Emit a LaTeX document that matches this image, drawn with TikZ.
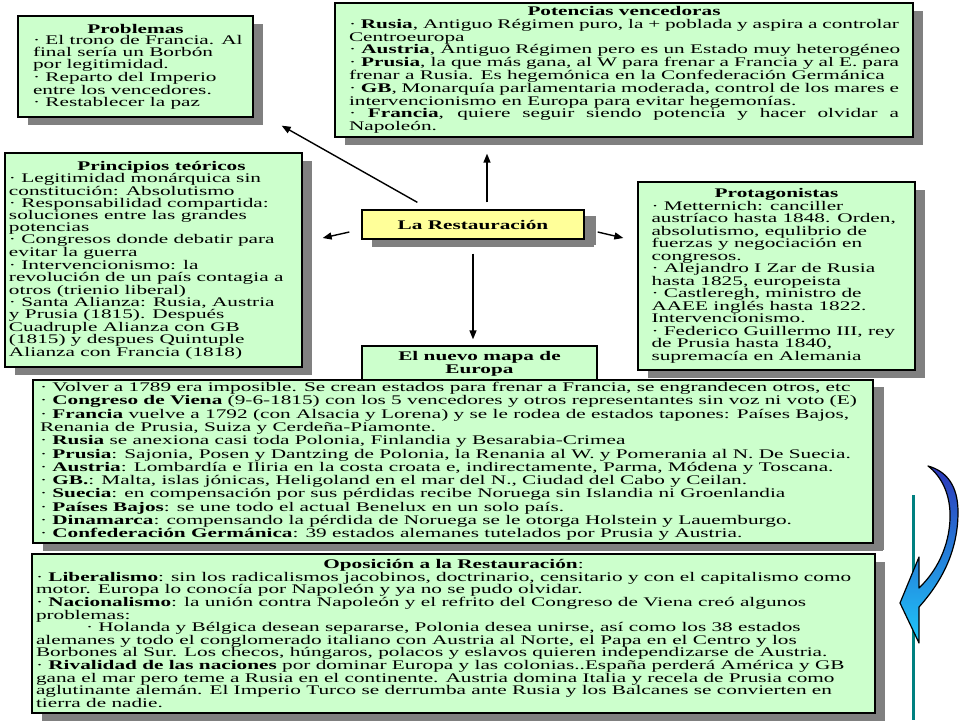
\documentclass[tikz,border=0pt]{standalone}
\usepackage{fontspec}
\setmainfont{Liberation Serif}[FakeStretch=1.61]
\usetikzlibrary{arrows.meta,shadows,calc}
\definecolor{boxgreen}{RGB}{204,255,204}
\definecolor{boxyellow}{RGB}{255,255,153}
\definecolor{shadowgray}{RGB}{128,128,128}
\definecolor{tealline}{RGB}{0,128,128}
\definecolor{arrtop}{RGB}{45,55,185}
\definecolor{arrbot}{RGB}{30,200,250}
\newlength\bw
\newcommand\Ll[1]{\makebox[\bw][l]{#1}}
\newcommand\Lj[1]{\makebox[\bw][s]{#1}}
\newcommand\Lc[1]{\makebox[\bw][c]{\bfseries #1}}
\begin{document}
\begin{tikzpicture}[x=1pt,y=-1pt,
  box/.style={draw=black, line width=1.3pt, fill=boxgreen, inner sep=0pt, align=center,
    font=\fontsize{13.2}{#1}\selectfont,
    drop shadow={shadow xshift=10pt, shadow yshift=-8pt, fill=shadowgray, opacity=1}},
  arr/.style={-{Triangle[length=9pt,width=7pt]}, line width=1.4pt}]
\useasboundingbox (0,0) rectangle (960,720);
\fill[white] (0,0) rectangle (960,720);

\setlength\bw{205pt}
\node[box=11.8, minimum width=235pt, minimum height=101pt] (prob) at (135.5,66.5) {%
\Lc{Problemas}\\
\Ll{· El trono de Francia. Al}\\
\Ll{final sería un Borbón}\\
\Ll{por legitimidad.}\\
\Ll{· Reparto del Imperio}\\
\Ll{entre los vencedores.}\\
\Ll{· Restablecer la paz}};

\setlength\bw{550pt}
\node[box=12.8, minimum width=578pt, minimum height=134pt] (pot) at (624,70) {%
\Lc{Potencias vencedoras}\\
\Lj{· \textbf{Rusia}, Antiguo Régimen puro, la + poblada y aspira a controlar}\\
\Ll{Centroeuropa}\\
\Ll{· \textbf{Austria}, Antiguo Régimen pero es un Estado muy heterogéneo}\\
\Lj{· \textbf{Prusia}, la que más gana, al W para frenar a Francia y al E. para}\\
\Ll{frenar a Rusia. Es hegemónica en la Confederación Germánica}\\
\Lj{· \textbf{GB}, Monarquía parlamentaria moderada, control de los mares e}\\
\Ll{intervencionismo en Europa para evitar hegemonías.}\\
\Lj{· \textbf{Francia}, quiere seguir siendo potencia y hacer olvidar a}\\
\Ll{Napoleón.}};

\setlength\bw{289pt}
\node[box=12, minimum width=297pt, minimum height=214pt] (princ) at (153.5,260) {%
\makebox[\bw][c]{\hspace*{16pt}\bfseries Principios teóricos}\\
\Ll{· Legitimidad monárquica sin}\\
\Ll{constitución: Absolutismo}\\
\Ll{· Responsabilidad compartida:}\\
\Ll{soluciones entre las grandes}\\
\Ll{potencias}\\
\Ll{· Congresos donde debatir para}\\
\Ll{evitar la guerra}\\
\Ll{· Intervencionismo: la}\\
\Ll{revolución de un país contagia a}\\
\Ll{otros (trienio liberal)}\\
\Ll{· Santa Alianza: Rusia, Austria}\\
\Ll{y Prusia (1815). Después}\\
\Ll{Cuadruple Alianza con GB}\\
\Ll{(1815) y despues Quintuple}\\
\Ll{Alianza con Francia (1818)}};

\setlength\bw{250pt}
\node[box=12.5, minimum width=277pt, minimum height=188pt] (prot) at (776.5,276) {%
\Lc{Protagonistas}\\
\Ll{· Metternich: canciller}\\
\Ll{austríaco hasta 1848. Orden,}\\
\Ll{absolutismo, equlibrio de}\\
\Ll{fuerzas y negociación en}\\
\Ll{congresos.}\\
\Ll{· Alejandro I Zar de Rusia}\\
\Ll{hasta 1825, europeista}\\
\Ll{· Castleregh, ministro de}\\
\Ll{AAEE inglés hasta 1822.}\\
\Ll{Intervencionismo.}\\
\Ll{· Federico Guillermo III, rey}\\
\Ll{de Prusia hasta 1840,}\\
\Ll{supremacía en Alemania}};

\node[box=13, fill=boxyellow, minimum width=222pt, minimum height=29pt,
  drop shadow={shadow xshift=12pt, shadow yshift=-6pt, fill=shadowgray, opacity=1}]
  (rest) at (473,224.5) {\bfseries La Restauración};

\node[draw=black, line width=1.3pt, fill=boxgreen, inner sep=0pt, align=center,
  font=\fontsize{13.2}{12.5}\selectfont\bfseries, minimum width=235pt, minimum height=36pt]
  (mapa) at (479.5,364) {El nuevo mapa de\\Europa};

\setlength\bw{826pt}
\node[box=13.3, minimum width=840pt, minimum height=163pt,
  drop shadow={shadow xshift=11pt, shadow yshift=-7pt, fill=shadowgray, opacity=1}]
  (volver) at (453,461.5) {%
\Ll{· Volver a 1789 era imposible. Se crean estados para frenar a Francia, se engrandecen otros, etc}\\
\Ll{· \textbf{Congreso de Viena} (9-6-1815) con los 5 vencedores y otros representantes sin voz ni voto (E)}\\
\Ll{· \textbf{Francia} vuelve a 1792 (con Alsacia y Lorena) y se le rodea de estados tapones: Países Bajos,}\\
\Ll{Renania de Prusia, Suiza y Cerdeña-Piamonte.}\\
\Ll{· \textbf{Rusia} se anexiona casi toda Polonia, Finlandia y Besarabia-Crimea}\\
\Ll{· \textbf{Prusia}: Sajonia, Posen y Dantzing de Polonia, la Renania al W. y Pomerania al N. De Suecia.}\\
\Ll{· \textbf{Austria}: Lombardía e Iliria en la costa croata e, indirectamente, Parma, Módena y Toscana.}\\
\Ll{· \textbf{GB.}: Malta, islas jónicas, Heligoland en el mar del N., Ciudad del Cabo y Ceilan.}\\
\Ll{· \textbf{Suecia}: en compensación por sus pérdidas recibe Noruega sin Islandia ni Groenlandia}\\
\Ll{· \textbf{Países Bajos}: se une todo el actual Benelux en un solo país.}\\
\Ll{· \textbf{Dinamarca}: compensando la pérdida de Noruega se le otorga Holstein y Lauemburgo.}\\
\Ll{· \textbf{Confederación Germánica}: 39 estados alemanes tutelados por Prusia y Austria.}};

\setlength\bw{835pt}
\node[box=12.6, minimum width=843pt, minimum height=159pt] (opos) at (453.5,633.5) {%
\Lc{Oposición a la Restauración\mdseries:}\\
\Ll{· \textbf{Liberalismo}: sin los radicalismos jacobinos, doctrinario, censitario y con el capitalismo como}\\
\Ll{motor. Europa lo conocía por Napoleón y ya no se pudo olvidar.}\\
\Ll{· \textbf{Nacionalismo}: la unión contra Napoleón y el refrito del Congreso de Viena creó algunos}\\
\Ll{problemas:}\\
\Ll{\hspace*{50pt}· Holanda y Bélgica desean separarse, Polonia desea unirse, así como los 38 estados}\\
\Ll{alemanes y todo el conglomerado italiano con Austria al Norte, el Papa en el Centro y los}\\
\Ll{Borbones al Sur. Los checos, húngaros, polacos y eslavos quieren independizarse de Austria.}\\
\Ll{· \textbf{Rivalidad de las naciones} por dominar Europa y las colonias..España perderá América y GB}\\
\Ll{gana el mar pero teme a Rusia en el continente. Austria domina Italia y recela de Prusia como}\\
\Ll{aglutinante alemán. El Imperio Turco se derrumba ante Rusia y los Balcanes se convierten en}\\
\Ll{tierra de nadie.}};

% connectors
\draw[arr, shorten <=7pt, shorten >=16pt] ([xshift=14pt]rest.north) -- ([xshift=14pt]rest.north |- pot.south);
\draw[arr, shorten <=14pt, shorten >=6pt] (rest.south) -- (rest.south |- mapa.north);
\draw[arr] ([shift={(-12,7.5)}]rest.west) -- ([shift={(20,-22)}]princ.east);
\draw[arr] ([shift={(13,7.5)}]rest.east) -- ([shift={(-14,-38)}]prot.west);
\draw[arr] ([shift={(56,-7)}]rest.north west) -- ([shift={(28,8)}]prob.south east);

% teal line and curved arrow
\draw[tealline, line width=3pt] (913,495) -- (913,720);
\path[draw=black, line width=1.2pt, top color=arrtop, bottom color=arrbot, line join=round]
  (928,466) .. controls (946,471) and (958,485) .. (958,512)
  .. controls (958,547) and (945,578) .. (919,607)
  -- (919,643) -- (900,603) -- (919,557) -- (919,588)
  .. controls (940,568) and (951,540) .. (950,512)
  .. controls (949,492) and (941,476) .. (928,466) -- cycle;
\end{tikzpicture}
\end{document}
